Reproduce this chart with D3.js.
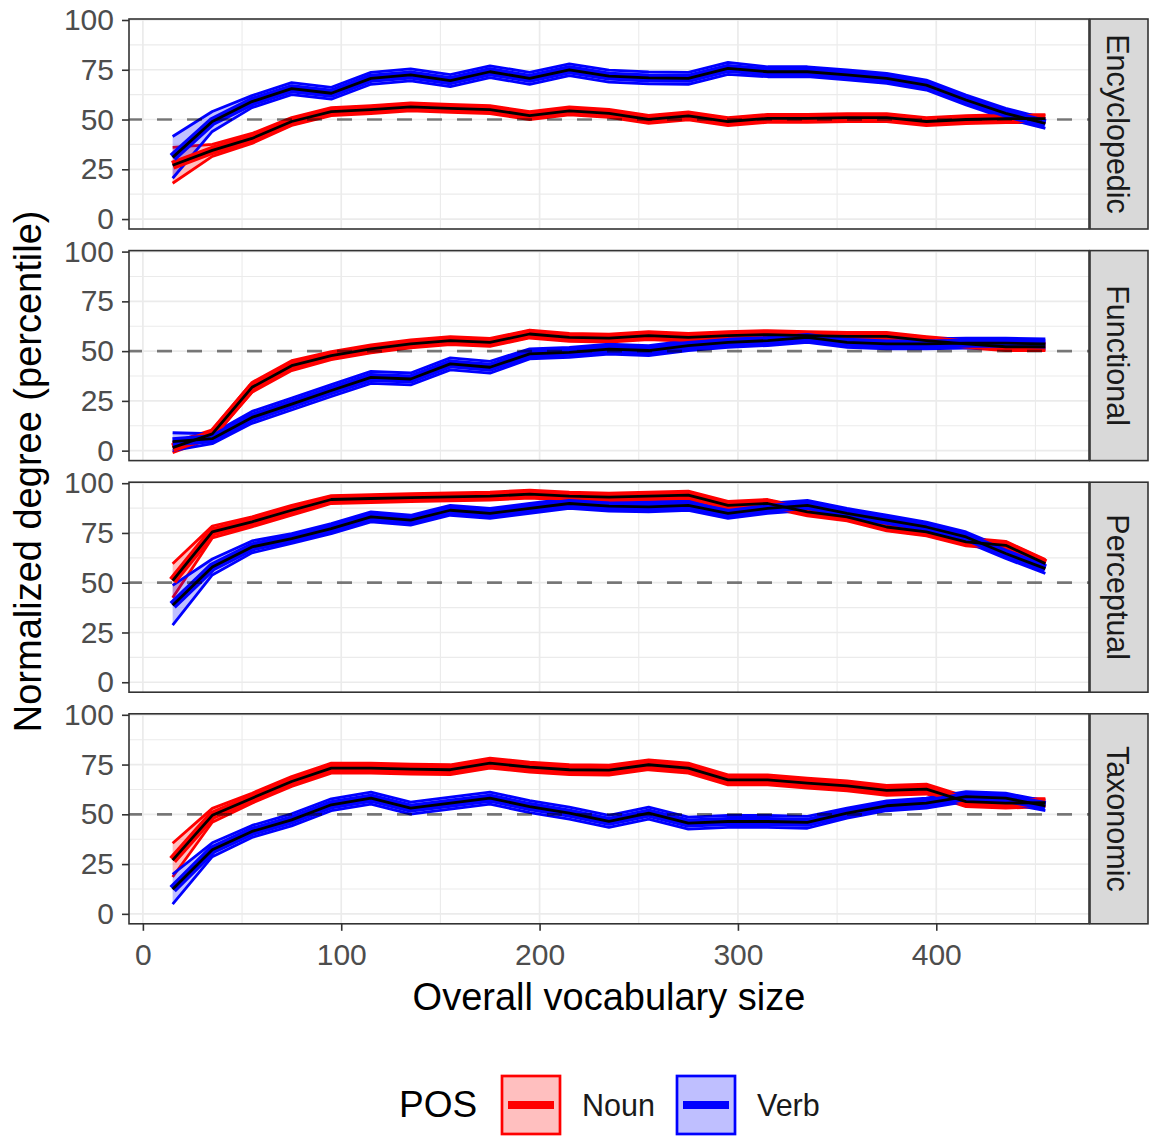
<!DOCTYPE html>
<html>
<head>
<meta charset="utf-8">
<script src="https://cdn.jsdelivr.net/npm/d3@7"></script>
<style>
  body { margin: 0; background: #fff; }
  svg { display: block; font-family: "Liberation Sans", Arial, Helvetica, sans-serif; }
</style>
</head>
<body>
<div id="chart"></div>
<script>
// ---------- data ----------
const xVals = [15, 35, 55, 75, 95, 115, 135, 155, 175, 195, 215, 235, 255, 275, 295, 315, 335, 355, 375, 395, 415, 435, 455];
const facets = ["Encyclopedic", "Functional", "Perceptual", "Taxonomic"];
const posLevels = ["Noun", "Verb"];
const posColors = ["#ff0000", "#0000ff"];
const xTicks = [0, 100, 200, 300, 400];
const yTicks = [0, 25, 50, 75, 100];

// means
const encyNoun = [27, 34.5, 40.5, 49, 54, 55, 56.4, 55.6, 55, 52, 54.3, 53.1, 50.1, 51.8, 49, 50.6, 50.6, 51, 51, 49, 50, 50.5, 50.5];
const encyVerb = [31, 49, 59, 65.5, 63.2, 70.7, 72.4, 69.5, 74, 70.7, 75, 71.8, 70.9, 70.7, 75.7, 74, 74, 72.4, 70.7, 67.3, 59.8, 53.1, 48];
const funcNoun = [1.5, 8.4, 31.8, 42.7, 47.7, 51.1, 53.6, 55.3, 54.4, 58.6, 56.9, 56.5, 57.8, 56.9, 57.8, 58.3, 57.8, 57.4, 57.4, 55.3, 53.6, 52.2, 52.2];
const funcVerb = [4.5, 6, 16.7, 23.4, 30.2, 36.8, 36, 43.6, 41.9, 48.6, 49.4, 51, 50.3, 52.8, 54.4, 55.3, 56.9, 54.4, 53.6, 53.6, 54, 54, 53.6];
const percNoun = [51, 75.5, 80.6, 86.4, 91.8, 92.3, 92.8, 93.1, 93.5, 94.5, 93.5, 93, 93.5, 94, 88.9, 89.8, 85.6, 83.1, 78, 75.5, 70.5, 68.8, 59.6];
const percVerb = [38.7, 57.9, 68, 72.2, 77.2, 83.1, 81.4, 86.4, 84.8, 87.3, 89.8, 88.5, 88.1, 88.9, 84.8, 87.3, 88.9, 84.8, 81.4, 78, 73, 64.7, 57.1];
const taxoNoun = [27, 49.5, 58.1, 66.5, 73.2, 73.2, 72.7, 72.4, 75.7, 73.7, 72.4, 72.2, 74.9, 73.2, 67.3, 67.3, 65.7, 64.3, 62, 62.7, 56.4, 55.6, 55.9];
const taxoVerb = [12.4, 32.2, 41.4, 47.2, 54.8, 58.1, 53.1, 55.6, 58.1, 53.9, 50.6, 46.5, 50.6, 45.6, 46.4, 46.4, 46, 50.6, 54.3, 55.6, 58.9, 58.1, 54.3];

// ribbon half widths
const encyNounCI = [9, 3, 2.5, 2, 2, 2, 2, 2, 2, 2, 2, 2, 2, 2, 2, 2, 2, 2, 2, 2, 2, 2, 2];
const encyVerbCI = [10.5, 5, 3, 3, 3, 3, 3, 3, 3, 3, 3, 3, 3, 3, 3, 2.5, 2.5, 2.5, 2.5, 2.5, 2.5, 2.5, 2.5];
const funcNounCI = [2.5, 2, 2.5, 2.5, 2, 2, 2, 2, 2, 2, 2, 2, 2, 2, 2, 2, 2, 2, 2, 2, 2, 2, 2];
const funcVerbCI = [4.5, 2.5, 3, 3, 3, 3, 3, 3, 3, 2.5, 2.5, 2.5, 2.5, 2.5, 2.5, 2.5, 2.5, 2.5, 2.5, 2.5, 2.5, 2.5, 2.5];
const percNounCI = [8.5, 3, 2.5, 2.5, 2, 2, 2, 2, 2, 2, 2, 2, 2, 2, 2, 2, 2, 2, 2, 2, 2, 2, 2];
const percVerbCI = [10, 4, 3, 2.5, 2.5, 2.5, 2.5, 2.5, 2.5, 2.5, 2.5, 2.5, 2.5, 2.5, 2.5, 2.5, 2.5, 2.5, 2.5, 2.5, 2.5, 2.5, 2.5];
const taxoNounCI = [8.5, 3.5, 2.5, 2.5, 2.5, 2.5, 2.5, 2.5, 2.5, 2.5, 2.5, 2.5, 2.5, 2.5, 2.5, 2.5, 2.5, 2.5, 2.5, 2.5, 2.5, 2.5, 2];
const taxoVerbCI = [7.5, 3.5, 3, 3, 3, 3, 3, 3, 3, 3, 3, 3, 3, 3, 3, 3, 3, 2.5, 2.5, 2.5, 2.5, 2.5, 2.5];

const means = [[encyNoun, encyVerb], [funcNoun, funcVerb], [percNoun, percVerb], [taxoNoun, taxoVerb]];
const cis = [[encyNounCI, encyVerbCI], [funcNounCI, funcVerbCI], [percNounCI, percVerbCI], [taxoNounCI, taxoVerbCI]];

// ---------- layout ----------
const WIDTH = 1153, HEIGHT = 1136;
const panelLeft = 129, panelRight = 1089;
const panelTop0 = 19, panelStep = 231.6, panelH = 210;
const stripW = 58;

const svg = d3.select("#chart").append("svg")
    .attr("width", WIDTH)
    .attr("height", HEIGHT);

// x scale with ggplot-like 5% expansion
const xExt = d3.extent(xVals);
const xPad = (xExt[1] - xExt[0]) * 0.05;
const x = d3.scaleLinear().domain([xExt[0] - xPad, xExt[1] + xPad]).range([panelLeft, panelRight]);

const xMinor = d3.range(50, 500, 100);
const yMinor = [12.5, 37.5, 62.5, 87.5];

facets.forEach((name, fi) => {
    const top = panelTop0 + fi * panelStep;
    const y = d3.scaleLinear().domain([-5, 100.5]).range([top + panelH, top]);
    const g = svg.append("g");

    // background
    g.append("rect")
        .attr("x", panelLeft).attr("y", top)
        .attr("width", panelRight - panelLeft).attr("height", panelH)
        .attr("fill", "#fff");

    // grid
    const grid = g.append("g").attr("stroke", "#ebebeb");
    grid.selectAll(".vmin").data(xMinor).join("line")
        .attr("x1", d => x(d)).attr("x2", d => x(d))
        .attr("y1", top).attr("y2", top + panelH).attr("stroke-width", 1.1);
    grid.selectAll(".hmin").data(yMinor).join("line")
        .attr("y1", d => y(d)).attr("y2", d => y(d))
        .attr("x1", panelLeft).attr("x2", panelRight).attr("stroke-width", 1.1);
    grid.selectAll(".vmaj").data(xTicks).join("line")
        .attr("x1", d => x(d)).attr("x2", d => x(d))
        .attr("y1", top).attr("y2", top + panelH).attr("stroke-width", 1.7);
    grid.selectAll(".hmaj").data(yTicks).join("line")
        .attr("y1", d => y(d)).attr("y2", d => y(d))
        .attr("x1", panelLeft).attr("x2", panelRight).attr("stroke-width", 1.7);

    // clip
    const clipId = "clip" + fi;
    svg.append("clipPath").attr("id", clipId).append("rect")
        .attr("x", panelLeft).attr("y", top)
        .attr("width", panelRight - panelLeft).attr("height", panelH);
    const plot = g.append("g").attr("clip-path", `url(#${clipId})`);

    const series = posLevels.map((pos, pi) => ({
        pos,
        color: posColors[pi],
        values: xVals.map((xv, i) => ({
            x: xv,
            m: means[fi][pi][i],
            lo: means[fi][pi][i] - cis[fi][pi][i],
            hi: means[fi][pi][i] + cis[fi][pi][i]
        }))
    }));

    const area = d3.area().x(d => x(d.x)).y0(d => y(d.lo)).y1(d => y(d.hi));
    const upper = d3.line().x(d => x(d.x)).y(d => y(d.hi));
    const lower = d3.line().x(d => x(d.x)).y(d => y(d.lo));
    const mid = d3.line().x(d => x(d.x)).y(d => y(d.m));

    // ribbons
    series.forEach(s => {
        plot.append("path").attr("d", area(s.values))
            .attr("fill", s.color).attr("fill-opacity", 0.25).attr("stroke", "none");
        [upper, lower].forEach(fn => {
            plot.append("path").attr("d", fn(s.values))
                .attr("fill", "none").attr("stroke", s.color).attr("stroke-width", 2.8)
                .attr("stroke-linejoin", "round");
        });
    });
    // coloured lines
    series.forEach(s => {
        plot.append("path").attr("d", mid(s.values))
            .attr("fill", "none").attr("stroke", s.color).attr("stroke-width", 9)
            .attr("stroke-linejoin", "round");
    });
    // black mean lines
    series.forEach(s => {
        plot.append("path").attr("d", mid(s.values))
            .attr("fill", "none").attr("stroke", "#000").attr("stroke-width", 2.8)
            .attr("stroke-linejoin", "round");
    });

    // reference line at 50
    plot.append("line")
        .attr("x1", panelLeft).attr("x2", panelRight)
        .attr("y1", y(50)).attr("y2", y(50))
        .attr("stroke", "#000").attr("stroke-opacity", 0.5)
        .attr("stroke-width", 2.7)
        .attr("stroke-dasharray", "15,15")
        .attr("stroke-dashoffset", 2);

    // panel border
    g.append("rect")
        .attr("x", panelLeft).attr("y", top)
        .attr("width", panelRight - panelLeft).attr("height", panelH)
        .attr("fill", "none").attr("stroke", "#333").attr("stroke-width", 1.6);

    // strip
    g.append("rect")
        .attr("x", panelRight + 1).attr("y", top)
        .attr("width", stripW).attr("height", panelH)
        .attr("fill", "#d9d9d9").attr("stroke", "#333").attr("stroke-width", 1.6);
    g.append("text")
        .attr("transform", `translate(${panelRight + 1 + stripW / 2 - 1},${top + panelH / 2}) rotate(90)`)
        .attr("text-anchor", "middle")
        .attr("dy", "0.35em")
        .attr("font-size", 30.5)
        .attr("fill", "#1a1a1a")
        .text(name);

    // y axis
    const yAxis = g.append("g")
        .attr("transform", `translate(${panelLeft},0)`)
        .call(d3.axisLeft(y).tickValues(yTicks).tickSize(7).tickPadding(8));
    yAxis.select(".domain").remove();
    yAxis.selectAll(".tick line").attr("stroke", "#333").attr("stroke-width", 1.6);
    yAxis.selectAll(".tick text")
        .attr("font-size", 30).attr("fill", "#4d4d4d")
        .attr("font-family", "Liberation Sans, Arial, sans-serif");

    // x axis on the bottom panel
    if (fi === facets.length - 1) {
        const xAxis = g.append("g")
            .attr("transform", `translate(0,${top + panelH})`)
            .call(d3.axisBottom(x).tickValues(xTicks).tickSize(7).tickPadding(13));
        xAxis.select(".domain").remove();
        xAxis.selectAll(".tick line").attr("stroke", "#333").attr("stroke-width", 1.6);
        xAxis.selectAll(".tick text")
            .attr("font-size", 30).attr("fill", "#4d4d4d")
            .attr("font-family", "Liberation Sans, Arial, sans-serif");
    }
});

// axis titles
svg.append("text")
    .attr("x", (panelLeft + panelRight) / 2)
    .attr("y", 1010)
    .attr("text-anchor", "middle")
    .attr("font-size", 38)
    .attr("fill", "#000")
    .text("Overall vocabulary size");

const lastBottom = panelTop0 + (facets.length - 1) * panelStep + panelH;
svg.append("text")
    .attr("transform", `translate(41,${(panelTop0 + lastBottom) / 2}) rotate(-90)`)
    .attr("text-anchor", "middle")
    .attr("font-size", 38)
    .attr("fill", "#000")
    .text("Normalized degree (percentile)");

// legend
const legend = svg.append("g");
legend.append("text")
    .attr("x", 399).attr("y", 1117)
    .attr("font-size", 37)
    .text("POS");

const keyX = [502, 677];
posLevels.forEach((pos, i) => {
    const kx = keyX[i], ky = 1076, ks = 58;
    legend.append("rect")
        .attr("x", kx).attr("y", ky).attr("width", ks).attr("height", ks)
        .attr("fill", posColors[i]).attr("fill-opacity", 0.25)
        .attr("stroke", posColors[i]).attr("stroke-width", 2.7);
    legend.append("line")
        .attr("x1", kx + 6).attr("x2", kx + ks - 6)
        .attr("y1", ky + ks / 2).attr("y2", ky + ks / 2)
        .attr("stroke", posColors[i]).attr("stroke-width", 8);
    legend.append("text")
        .attr("x", kx + ks + 22).attr("y", 1116)
        .attr("font-size", 30.5)
        .attr("fill", "#1a1a1a")
        .text(pos);
});
</script>
</body>
</html>
